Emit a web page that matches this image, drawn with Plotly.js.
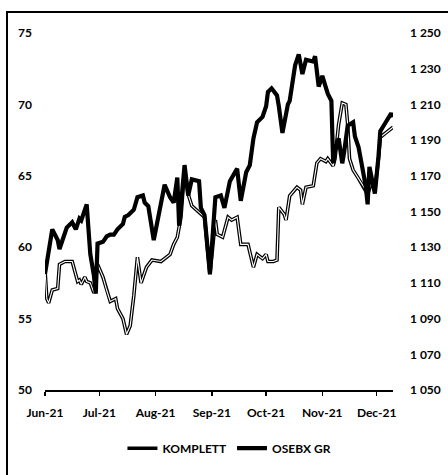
<!DOCTYPE html>
<html>
<head>
<meta charset="utf-8">
<script src="https://cdn.plot.ly/plotly-3.0.1.min.js"></script>
<style>
  html, body { margin: 0; padding: 0; background: #fff; }
  #wrap { position: relative; width: 448px; height: 475px; }
  #chart { position: absolute; left: 0; top: 0; width: 448px; height: 475px; }
  #frame { position: absolute; left: 6px; top: 11px; right: 0; bottom: 0;
           border-left: 2px solid #000; border-top: 2px solid #000; pointer-events: none; }
</style>
</head>
<body>
<div id="wrap"><div id="chart"></div><div id="frame"></div></div>
<script>
const komplettDates = ['2021-06-01','2021-06-02','2021-06-03','2021-06-05','2021-06-08','2021-06-09','2021-06-12','2021-06-16','2021-06-19','2021-06-20','2021-06-21','2021-06-23','2021-06-24','2021-06-26','2021-06-28','2021-06-29','2021-06-30',
'2021-07-03','2021-07-05','2021-07-07','2021-07-10','2021-07-11','2021-07-14','2021-07-16','2021-07-18','2021-07-20','2021-07-22','2021-07-24','2021-07-27','2021-07-30',
'2021-08-04','2021-08-06','2021-08-09','2021-08-11','2021-08-13','2021-08-15','2021-08-17','2021-08-19','2021-08-21','2021-08-28','2021-08-31',
'2021-09-03','2021-09-04','2021-09-07','2021-09-10','2021-09-12','2021-09-15','2021-09-17','2021-09-21','2021-09-24','2021-09-26','2021-09-29',
'2021-10-01','2021-10-02','2021-10-05','2021-10-07','2021-10-08','2021-10-11','2021-10-12','2021-10-14','2021-10-18','2021-10-20','2021-10-21','2021-10-23','2021-10-27','2021-10-29','2021-10-31',
'2021-11-03','2021-11-04','2021-11-07','2021-11-08','2021-11-10','2021-11-12','2021-11-14','2021-11-15','2021-11-16','2021-11-18','2021-11-21','2021-11-24','2021-11-26','2021-11-28','2021-11-30',
'2021-12-02','2021-12-03','2021-12-06','2021-12-09','2021-12-10'];
const komplett = [58.4,56.4,56.1,57.0,57.1,58.8,59.0,59.0,57.6,57.7,57.4,57.9,57.6,57.5,56.8,57.6,58.8,
57.9,57.0,56.2,56.4,55.7,55.0,53.9,54.5,56.6,59.3,57.5,58.6,59.1,
59.0,59.2,59.5,60.2,60.7,62.1,65.5,63.7,62.9,62.1,58.1,
61.9,60.9,60.7,62.1,61.9,62.1,60.2,60.2,58.6,59.5,59.2,
59.5,59.0,59.0,59.1,62.8,62.3,61.9,63.6,64.2,64.0,63.0,64.2,64.3,65.9,66.2,
66.0,66.2,65.7,66.2,68.6,70.1,70.0,68.6,66.2,65.4,64.8,64.2,63.7,64.5,64.0,
66.2,67.7,68.0,68.3,68.4];

const osebxDates = ['2021-06-01','2021-06-03','2021-06-05','2021-06-08','2021-06-09','2021-06-11','2021-06-13','2021-06-16','2021-06-18','2021-06-20','2021-06-21','2021-06-24','2021-06-26','2021-06-28','2021-06-29','2021-06-30',
'2021-07-03','2021-07-05','2021-07-07','2021-07-09','2021-07-11','2021-07-14','2021-07-15','2021-07-17','2021-07-20','2021-07-22','2021-07-25','2021-07-26','2021-07-28','2021-07-31',
'2021-08-02','2021-08-06','2021-08-09','2021-08-11','2021-08-13','2021-08-14','2021-08-17','2021-08-19','2021-08-21','2021-08-25','2021-08-26','2021-08-28','2021-08-31',
'2021-09-03','2021-09-06','2021-09-08','2021-09-11','2021-09-15','2021-09-17','2021-09-20','2021-09-22','2021-09-24','2021-09-26','2021-09-29',
'2021-10-01','2021-10-02','2021-10-04','2021-10-07','2021-10-08','2021-10-10','2021-10-13','2021-10-14','2021-10-17','2021-10-19','2021-10-21','2021-10-23','2021-10-27','2021-10-28','2021-10-30',
'2021-11-01','2021-11-04','2021-11-06','2021-11-07','2021-11-08','2021-11-10','2021-11-12','2021-11-13','2021-11-15','2021-11-18','2021-11-19','2021-11-21','2021-11-23','2021-11-25','2021-11-26','2021-11-27','2021-11-29','2021-11-30',
'2021-12-02','2021-12-03','2021-12-06','2021-12-09','2021-12-10'];
const osebx = [1115,1128,1140,1134,1129,1135,1141,1144,1140,1146,1145,1154,1126,1114,1104,1132,
1133,1136,1137,1137,1140,1143,1147,1148,1151,1158,1159,1155,1153,1134,
1145,1165,1158,1155,1169,1142,1176,1159,1168,1167,1152,1148,1115,
1158,1159,1152,1167,1174,1156,1172,1176,1191,1200,1203,
1209,1217,1219,1215,1209,1194,1210,1212,1232,1238,1227,1235,1234,1237,1220,
1226,1216,1212,1177,1184,1191,1177,1183,1198,1200,1192,1186,1174,1164,1154,1175,1165,1160,
1181,1195,1200,1205,1203];

const seriesNames = ['KOMPLETT', 'OSEBX GR'];
const leftTicks = [50, 55, 60, 65, 70, 75];

const FONT = 'Lato, "Open Sans", sans-serif';
const TF = { family: FONT, size: 12, color: '#000', weight: 'bold' };

const traces = [
  { x: komplettDates, y: komplett, type: 'scatter', mode: 'lines', name: seriesNames[0],
    line: { color: '#000', width: 3.6 }, yaxis: 'y', hoverinfo: 'skip' },
  { x: komplettDates, y: komplett, type: 'scatter', mode: 'lines', name: seriesNames[0] + ' inner',
    line: { color: '#fff', width: 1.1 }, yaxis: 'y', showlegend: false, hoverinfo: 'skip' },
  { x: osebxDates, y: osebx, type: 'scatter', mode: 'lines', name: seriesNames[1],
    line: { color: '#000', width: 4.2 }, yaxis: 'y2', hoverinfo: 'skip' }
];

const layout = {
  width: 448, height: 475,
  margin: { l: 45, r: 55, t: 33, b: 80, pad: 0 },
  paper_bgcolor: '#fff', plot_bgcolor: '#fff',
  separators: ', ',
  font: TF,
  showlegend: true,
  legend: { orientation: 'h', x: 0.53, xanchor: 'center', y: -0.163, yanchor: 'middle',
            font: TF, traceorder: 'normal' },
  xaxis: {
    type: 'date', range: ['2021-06-01', '2021-12-10'],
    tick0: '2021-06-01', dtick: 'M1', tickformat: '%b-%y',
    showline: true, linecolor: '#000', linewidth: 1.5,
    ticks: 'outside', ticklen: 4, tickwidth: 1.5, tickcolor: '#000',
    showgrid: false, zeroline: false, ticklabelstandoff: 7,
    tickfont: TF
  },
  yaxis: {
    range: [50, 75], tickvals: leftTicks, showgrid: false, zeroline: false, showline: false,
    ticks: '', ticklabelstandoff: 12, tickfont: TF
  },
  yaxis2: {
    overlaying: 'y', side: 'right', range: [1050, 1250], tick0: 1050, dtick: 20,
    separatethousands: true, showgrid: false, zeroline: false, showline: false,
    ticks: '', ticklabelstandoff: 16, tickfont: TF
  }
};

Plotly.newPlot('chart', traces, layout, { displayModeBar: false, staticPlot: true });
</script>
</body>
</html>
